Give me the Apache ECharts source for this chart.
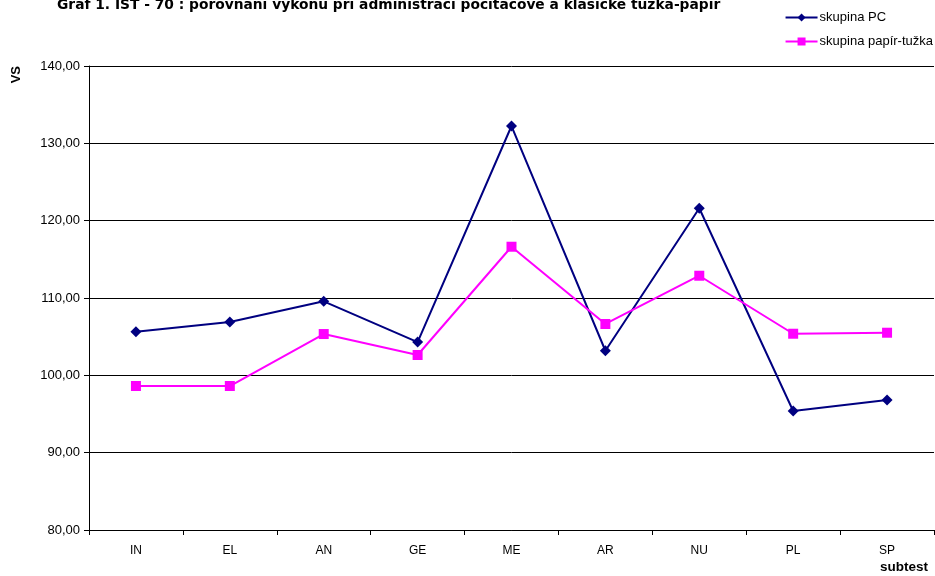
<!DOCTYPE html>
<html>
<head>
<meta charset="utf-8">
<script src="https://cdn.jsdelivr.net/npm/echarts@6/dist/echarts.min.js"></script>
<style>
  html, body { margin: 0; padding: 0; background: #fff; }
  #chart { width: 935px; height: 576px; }
</style>
</head>
<body>
<div id="chart"></div>
<script>
// Subtests of IST-70
const subtests = ['IN', 'EL', 'AN', 'GE', 'ME', 'AR', 'NU', 'PL', 'SP'];
// Mean standard scores (VS) per group
const skupinaPC = [105.65, 106.9, 109.57, 104.3, 132.24, 103.18, 121.6, 95.39, 96.81];
const skupinaPapirTuzka = [98.62, 98.62, 105.34, 102.63, 116.63, 106.64, 112.88, 105.38, 105.51];
// Value axis ticks
const yMin = 80, yMax = 140, yStep = 10;

const chart = echarts.init(document.getElementById('chart'), null, { renderer: 'canvas' });
const fontMain = 'Liberation Sans, Arial, sans-serif';
const fontTitle = 'DejaVu Sans, Verdana, sans-serif';

chart.setOption({
  animation: false,
  backgroundColor: '#fff',
  title: {
    text: 'Graf 1. IST - 70 : porovnání výkonu při administraci počítačové a klasické tužka-papír',
    left: 52,
    top: -7,
    textStyle: { fontFamily: fontTitle, fontWeight: 'bold', fontSize: 13.8, color: '#000' }
  },
  legend: {
    orient: 'vertical',
    right: 2,
    top: 11,
    padding: 0,
    itemWidth: 32,
    itemHeight: 10,
    itemGap: 11,
    textStyle: { fontFamily: fontMain, fontSize: 13, color: '#000', padding: [0, 0, 0, -3] },
    data: ['skupina PC', 'skupina papír-tužka']
  },
  grid: { left: 89, right: 1, top: 66, bottom: 46, containLabel: false },
  xAxis: {
    type: 'category',
    data: subtests,
    boundaryGap: true,
    axisLine: { lineStyle: { color: '#000', width: 1 } },
    axisTick: { show: true, length: 5, lineStyle: { color: '#000' } },
    axisLabel: { fontFamily: fontMain, fontSize: 12, color: '#000', margin: 15 }
  },
  yAxis: {
    type: 'value',
    min: yMin,
    max: yMax,
    interval: yStep,
    axisLine: { show: true, lineStyle: { color: '#000', width: 1 } },
    axisTick: { show: true, length: 5, inside: false, lineStyle: { color: '#000' } },
    axisLabel: {
      fontFamily: fontMain, fontSize: 13, color: '#000', margin: 9,
      formatter: v => v.toFixed(2).replace('.', ',')
    },
    splitLine: { show: true, lineStyle: { color: '#000', width: 1 } }
  },
  graphic: [
    {
      type: 'text', left: 10, top: 66, rotation: Math.PI / 2,
      style: { text: 'VS', font: 'bold 13px ' + fontMain, fill: '#000' }
    },
    {
      type: 'text', right: 7, top: 560,
      style: { text: 'subtest', font: 'bold 13.5px ' + fontMain, fill: '#000' }
    }
  ],
  series: [
    {
      name: 'skupina PC',
      type: 'line',
      data: skupinaPC,
      symbol: 'diamond',
      symbolSize: 11,
      lineStyle: { color: '#000080', width: 2 },
      itemStyle: { color: '#000080' }
    },
    {
      name: 'skupina papír-tužka',
      type: 'line',
      data: skupinaPapirTuzka,
      symbol: 'rect',
      symbolSize: 10,
      lineStyle: { color: '#ff00ff', width: 2 },
      itemStyle: { color: '#ff00ff' }
    }
  ]
});
</script>
</body>
</html>
